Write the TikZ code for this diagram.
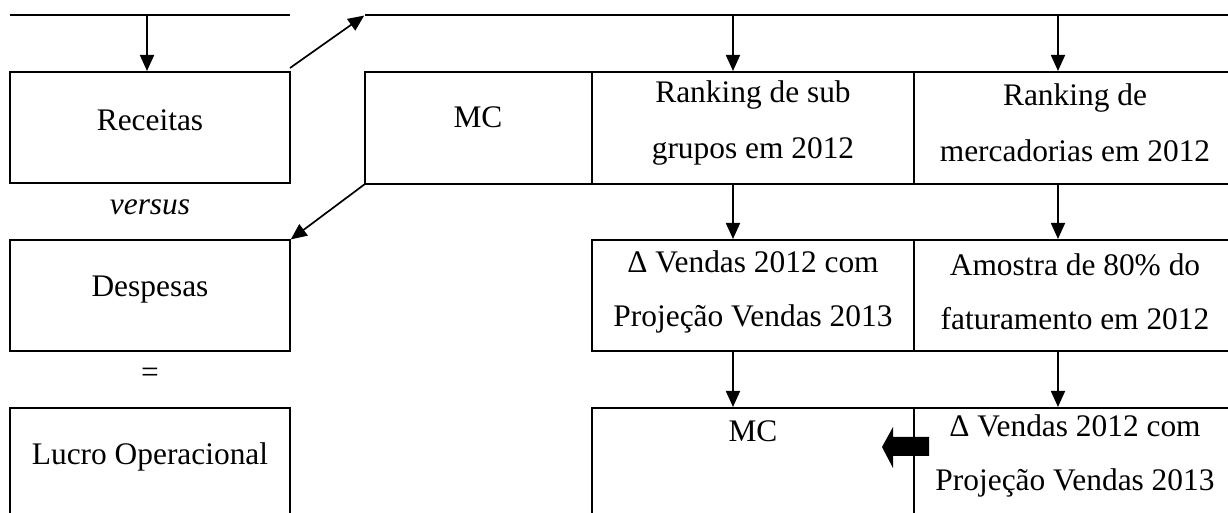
\documentclass[tikz,border=0pt]{standalone}
\usepackage{fontspec}
\setmainfont{Liberation Serif}
\usetikzlibrary{arrows.meta}

\begin{document}
\begin{tikzpicture}[x=0.5pt, y=-0.5pt,
                    every node/.style={inner sep=0pt, outer sep=0pt},
                    lbox/.style={draw, line width=1.2pt, minimum width=140pt},
                    cell/.style={draw, line width=0.8pt},
                    txt/.style={font=\fontsize{15.7}{27}\selectfont, align=center},
                    arr/.style={-{Triangle[length=8pt,width=7pt]}, line width=0.85pt, shorten >=0.5pt},
                    topline/.style={line width=1pt}]
\useasboundingbox (0,0) rectangle (1228,513);

% Left column
\node[lbox, minimum height=55.5pt] (receitas) at (150,127.5) {};
\node[lbox, minimum height=55.5pt] (despesas) at (150,295.5) {};
\node[lbox, minimum height=66pt]   (lucro)    at (150,474)   {};

% Table
\node[cell, minimum width=113.5pt, minimum height=56pt] (mc)   at (478.5,128) {};
\node[cell, minimum width=161pt,   minimum height=56pt] (sub)  at (753,128)   {};
\node[cell, minimum width=163pt,   minimum height=56pt] (merc) at (1077,128)  {};
\node[cell, minimum width=161pt, minimum height=55.5pt] (delta)   at (753,295.5)  {};
\node[cell, minimum width=163pt, minimum height=55.5pt] (amostra) at (1077,295.5) {};
\node[cell, minimum width=161pt, minimum height=66pt] (mcproj)    at (753,474)  {};
\node[cell, minimum width=163pt, minimum height=66pt] (deltaproj) at (1077,474) {};

% Texts
\node[txt] (receitas-t) at (150,120) {Receitas};
\node[txt] (versus-t)   at (150,207) {\itshape versus};
\node[txt] (despesas-t) at (150,290) {Despesas};
\node[txt] (igual-t)    at (150,375) {=};
\node[txt] (lucro-t)    at (150,457) {Lucro Operacional};
\node[txt] (mc-t)       at (478,117) {MC};
\node[txt] (sub-t)      at (753,123) {Ranking de sub\\[1pt]grupos em 2012};
\node[txt] (merc-t)     at (1075,123) {Ranking de\\[1pt]mercadorias em 2012};
\node[txt] (delta-t)    at (753,292) {Δ Vendas 2012 com\\Projeção Vendas 2013};
\node[txt] (amostra-t)  at (1075,292) {Amostra de 80\% do\\faturamento em 2012};
\node[txt] (mcproj-t)   at (753,431) {MC};
\node[txt] (deltaproj-t) at (1075,456) {Δ Vendas 2012 com\\Projeção Vendas 2013};

% Top lines
\coordinate (topl-a) at (10,15);
\coordinate (topl-b) at (290,15);
\coordinate (topr-a) at (365,15);
\coordinate (topr-b) at (1228,15);
\draw[topline] (topl-a) -- (topl-b);
\draw[topline] (topr-a) -- (topr-b);

% Arrows
\coordinate (in1) at (147,15);
\coordinate (in2) at (733,15);
\coordinate (in3) at (1058,15);
\draw[arr] (in1) -- (in1 |- receitas.north);
\draw[arr] ([yshift=2pt]receitas.north east) -- (topr-a);
\draw[arr] (mc.south west) -- (despesas.north east);
\draw[arr] (in2) -- (in2 |- sub.north);
\draw[arr] (in3) -- (in3 |- merc.north);
\draw[arr] (in2 |- sub.south) -- (in2 |- delta.north);
\draw[arr] (in3 |- merc.south) -- (in3 |- amostra.north);
\draw[arr] (in2 |- delta.south) -- (in2 |- mcproj.north);
\draw[arr] (in3 |- amostra.south) -- (in3 |- deltaproj.north);

% Block arrow
\fill (882,447) -- (893,427) -- (893,437) -- (929,437) -- (929,456)
      -- (893,456) -- (893,468) -- cycle;

\end{tikzpicture}
\end{document}
